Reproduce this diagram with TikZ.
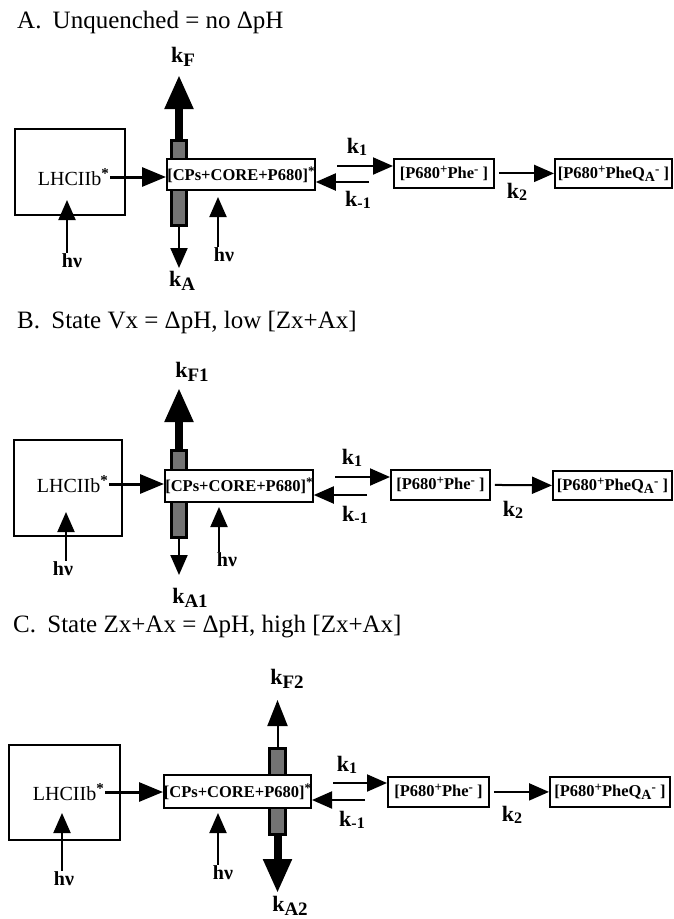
\documentclass[tikz,border=0pt]{standalone}
\usepackage{fontspec}
\setmainfont{Liberation Serif}
\usetikzlibrary{arrows.meta}
\newcommand{\mytitle}{\fontsize{25}{28}\selectfont}
\newcommand{\myboxf}{\fontsize{16.5}{19}\selectfont\bfseries}
\newcommand{\mylhc}{\fontsize{20}{23}\selectfont}
\newcommand{\myk}{\fontsize{22}{25}\selectfont\bfseries}
\newcommand{\myhv}{\fontsize{20}{23}\selectfont\bfseries}
\newcommand{\kbig}[1]{k\raisebox{-4pt}{\fontsize{19}{19}\selectfont #1}}
\newcommand{\ksm}[1]{k\raisebox{-2pt}{\fontsize{16}{16}\selectfont #1}}
\newcommand{\bigast}{\raisebox{7pt}{\fontsize{15}{15}\selectfont\bfseries *}}
\newcommand{\sps}[1]{\raisebox{5pt}{\fontsize{13}{13}\selectfont #1}}
\newcommand{\sbs}[1]{\raisebox{-3pt}{\fontsize{14}{14}\selectfont #1}}
\tikzset{
  rbox/.style={draw, line width=1.8pt, fill=white, inner sep=0pt, font=\myboxf},
  lbox/.style={draw, line width=1.8pt, fill=white, inner sep=0pt},
  rodbar/.style={draw, line width=3pt, fill=black!55, inner sep=0pt, minimum width=15pt},
  arr/.style={line width=2pt, -{Triangle[width=17pt,length=20pt]}},
  medarr/.style={line width=3pt, -{Triangle[width=19pt,length=24pt]}},
  bigarr/.style={line width=8pt, -{Triangle[width=27pt,length=34pt]}},
  ttl/.style={font=\mytitle, inner sep=0pt, anchor=base west},
  klab/.style={font=\myk, inner sep=1pt},
  hvlab/.style={font=\myhv, inner sep=1pt},
  lhctxt/.style={font=\mylhc, inner sep=1pt, anchor=east},
}
\begin{document}
\begin{tikzpicture}[x=1pt,y=-1pt]
\useasboundingbox[fill=white] (0,0) rectangle (673,919);

% ================= Panel A =================
\node[ttl] (tA) at (17,28) {A.\hspace{0.45em}Unquenched = no ΔpH};
\node[rodbar, minimum height=85pt, anchor=north] (barA) at (179,138.5) {};
\node[lbox, minimum width=110pt, minimum height=86pt, anchor=north west] (lhcA) at (14,128) {};
\node[lhctxt] (ltA) at (110,177) {LHCIIb\bigast};
\node[rbox, minimum width=148pt, minimum height=31pt, anchor=north west] (cpA) at (166,158) {[CPs+CORE+P680]\sps{*}};
\node[rbox, minimum width=100pt, minimum height=29pt, anchor=north west] (pheA) at (393,158) {[P680\sps{+}Phe\sps{-} ]};
\node[rbox, minimum width=117pt, minimum height=29pt, anchor=north west] (qaA) at (554,158) {[P680\sps{+}PheQ\sbs{A}\sps{-} ]};
\node[klab] (kFA) at (183,57) {\kbig{F}};
\coordinate (kFtipA) at (179,75);
\draw[bigarr] (barA.north) -- (kFtipA);
\coordinate (kAtipA) at (179,268);
\draw[arr] (barA.south) -- (kAtipA);
\node[klab] (kAA) at (182,281) {\kbig{A}};
\draw[medarr] (ltA.east) -- (ltA.east -| cpA.west);
\node[hvlab] (hv1A) at (72,261) {hν};
\coordinate (hv1tA) at (67,200);
\draw[arr] (hv1tA |- hv1A.north) -- (hv1tA);
\node[hvlab] (hv2A) at (224,255) {hν};
\coordinate (hv2tA) at (218,197);
\draw[arr] (hv2tA |- hv2A.north) -- (hv2tA);
\coordinate (k1sA) at (337,166);
\draw[arr] (k1sA) -- (k1sA -| pheA.west);
\node[klab] (k1A) at (357,147) {\ksm{1}};
\coordinate (km1sA) at (369,182);
\draw[arr] (km1sA) -- (km1sA -| cpA.east);
\node[klab] (km1A) at (358,200) {\ksm{-1}};
\draw[arr, shorten <=4pt] (pheA.east) -- (qaA.west);
\node[klab] (k2A) at (517,192) {\ksm{2}};

% ================= Panel B =================
\node[ttl] (tB) at (17,328) {B.\hspace{0.45em}State Vx = ΔpH, low [Zx+Ax]};
\node[rodbar, minimum height=87pt, anchor=north] (barB) at (179,448.5) {};
\node[lbox, minimum width=108pt, minimum height=96pt, anchor=north west] (lhcB) at (13,439) {};
\node[lhctxt] (ltB) at (109,484) {LHCIIb\bigast};
\node[rbox, minimum width=148pt, minimum height=32pt, anchor=north west] (cpB) at (164,469) {[CPs+CORE+P680]\sps{*}};
\node[rbox, minimum width=99pt, minimum height=30pt, anchor=north west] (pheB) at (390,469) {[P680\sps{+}Phe\sps{-} ]};
\node[rbox, minimum width=119pt, minimum height=29pt, anchor=north west] (qaB) at (552,470) {[P680\sps{+}PheQ\sbs{A}\sps{-} ]};
\node[klab] (kFB) at (192,372) {\kbig{F1}};
\coordinate (kFtipB) at (179,388);
\draw[bigarr] (barB.north) -- (kFtipB);
\coordinate (kAtipB) at (179,575);
\draw[arr] (barB.south) -- (kAtipB);
\node[klab] (kAB) at (190,598) {\kbig{A1}};
\draw[medarr] (ltB.east) -- (ltB.east -| cpB.west);
\node[hvlab] (hv1B) at (63,569) {hν};
\coordinate (hv1tB) at (66,512);
\draw[arr] (hv1tB |- hv1B.north) -- (hv1tB);
\node[hvlab] (hv2B) at (227,560) {hν};
\coordinate (hv2tB) at (219,507);
\draw[arr] (hv2tB |- hv2B.north) -- (hv2tB);
\coordinate (k1sB) at (335,477);
\draw[arr] (k1sB) -- (k1sB -| pheB.west);
\node[klab] (k1B) at (352,458) {\ksm{1}};
\coordinate (km1sB) at (367,495);
\draw[arr] (km1sB) -- (km1sB -| cpB.east);
\node[klab] (km1B) at (355,515) {\ksm{-1}};
\draw[arr, shorten <=4pt] (pheB.east) -- (qaB.west);
\node[klab] (k2B) at (513,510) {\ksm{2}};

% ================= Panel C =================
\node[ttl] (tC) at (13,632) {C.\hspace{0.45em}State Zx+Ax = ΔpH, high [Zx+Ax]};
\node[rodbar, minimum width=16pt, minimum height=86pt, anchor=north] (barC) at (277.5,746.5) {};
\node[lbox, minimum width=111pt, minimum height=95pt, anchor=north west] (lhcC) at (8,744) {};
\node[lhctxt] (ltC) at (105,792) {LHCIIb\bigast};
\node[rbox, minimum width=146pt, minimum height=33pt, anchor=north west] (cpC) at (163,774) {[CPs+CORE+P680]\sps{*}};
\node[rbox, minimum width=101pt, minimum height=30pt, anchor=north west] (pheC) at (387,776) {[P680\sps{+}Phe\sps{-} ]};
\node[rbox, minimum width=120pt, minimum height=30pt, anchor=north west] (qaC) at (549,776) {[P680\sps{+}PheQ\sbs{A}\sps{-} ]};
\node[klab] (kFC) at (287,679) {\kbig{F2}};
\coordinate (kFtipC) at (277.5,700);
\draw[arr, -{Triangle[width=20pt,length=26pt]}] (barC.north) -- (kFtipC);
\coordinate (kAtipC) at (277.5,893);
\draw[bigarr] (barC.south) -- (kAtipC);
\node[klab] (kAC) at (290,906) {\kbig{A2}};
\draw[medarr] (ltC.east) -- (ltC.east -| cpC.west);
\node[hvlab] (hv1C) at (64,879) {hν};
\coordinate (hv1tC) at (62,813);
\draw[arr] (hv1tC |- hv1C.north) -- (hv1tC);
\node[hvlab] (hv2C) at (223,873) {hν};
\coordinate (hv2tC) at (218,813);
\draw[arr] (hv2tC |- hv2C.north) -- (hv2tC);
\coordinate (k1sC) at (333,783);
\draw[arr] (k1sC) -- (k1sC -| pheC.west);
\node[klab] (k1C) at (347,765) {\ksm{1}};
\coordinate (km1sC) at (365,800);
\draw[arr] (km1sC) -- (km1sC -| cpC.east);
\node[klab] (km1C) at (352,820) {\ksm{-1}};
\draw[arr, shorten <=4pt] (pheC.east) -- (qaC.west);
\node[klab] (k2C) at (512,815) {\ksm{2}};
\end{tikzpicture}
\end{document}
